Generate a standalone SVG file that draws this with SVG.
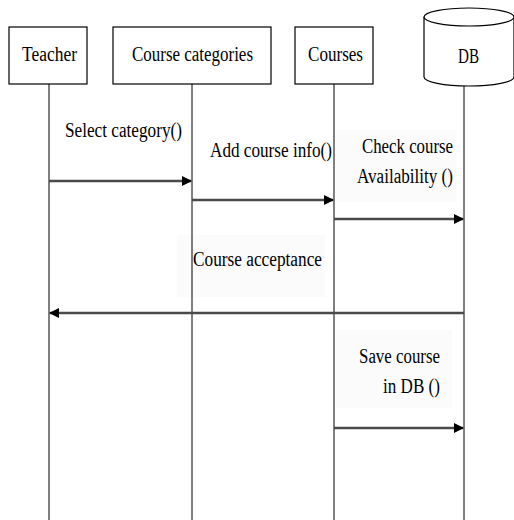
<svg xmlns="http://www.w3.org/2000/svg" width="514" height="520" viewBox="0 0 514 520">
  <style>
    .box { fill: #ffffff; stroke: #000000; stroke-width: 1.2; }
    .life { stroke: #000000; stroke-width: 1; fill: none; }
    .msg { stroke: #4a4a4a; stroke-width: 2.5; fill: none; }
    .pad { fill: #fbfbfb; stroke: none; }
  </style>
  <defs>
    <marker id="head" viewBox="0 0 10 10" refX="9" refY="5" markerWidth="4" markerHeight="4.4" orient="auto" markerUnits="strokeWidth">
      <path d="M0,0 L10,5 L0,10 Z" fill="#000000"/>
    </marker>
  </defs>

  <rect width="514" height="520" fill="#ffffff"/>

  <!-- label backdrops -->
  <g id="label-backdrops">
    <rect class="pad" x="177" y="235" width="148" height="62"/>
    <rect class="pad" x="336" y="330" width="116" height="78"/>
    <rect class="pad" x="336" y="130" width="120" height="72"/>
  </g>

  <!-- lifelines and messages -->
  <g id="connectors">
    <line class="life" x1="49" y1="84" x2="49" y2="520"/>
    <line class="life" x1="192" y1="84" x2="192" y2="520"/>
    <line class="life" x1="334" y1="84" x2="334" y2="520"/>
    <line class="life" x1="464" y1="86" x2="464" y2="520"/>

    <line class="msg" x1="49" y1="181" x2="191" y2="181" marker-end="url(#head)"/>
    <line class="msg" x1="192" y1="200" x2="333" y2="200" marker-end="url(#head)"/>
    <line class="msg" x1="334" y1="219" x2="463" y2="219" marker-end="url(#head)"/>
    <line class="msg" x1="464" y1="313" x2="50" y2="313" marker-end="url(#head)"/>
    <line class="msg" x1="334" y1="428" x2="463" y2="428" marker-end="url(#head)"/>
  </g>

  <!-- all labels share one serif face -->
  <g font-family="'Liberation Serif', 'DejaVu Serif', 'Noto Serif', 'Times New Roman', serif" font-size="20" fill="#000000" lengthAdjust="spacingAndGlyphs">
    <g id="messages">
      <text x="65" y="137" textLength="117" lengthAdjust="spacingAndGlyphs">Select category()</text>
      <text x="210" y="157" textLength="122" lengthAdjust="spacingAndGlyphs">Add course info()</text>
      <text x="362" y="153" textLength="91" lengthAdjust="spacingAndGlyphs">Check course</text>
      <text x="357" y="183" textLength="96" lengthAdjust="spacingAndGlyphs">Availability ()</text>
      <text x="193" y="266" textLength="129" lengthAdjust="spacingAndGlyphs">Course acceptance</text>
      <text x="359" y="363" textLength="81" lengthAdjust="spacingAndGlyphs">Save course</text>
      <text x="383" y="393" textLength="57" lengthAdjust="spacingAndGlyphs">in DB ()</text>
    </g>

    <g id="teacher">
      <rect class="box" x="9" y="27" width="78" height="57"/>
      <text x="22" y="61" textLength="55" lengthAdjust="spacingAndGlyphs">Teacher</text>
    </g>

    <g id="course-categories">
      <rect class="box" x="113" y="27" width="158" height="57"/>
      <text x="132" y="61" textLength="121" lengthAdjust="spacingAndGlyphs">Course categories</text>
    </g>

    <g id="courses">
      <rect class="box" x="295" y="27" width="78" height="57"/>
      <text x="308" y="61" textLength="55" lengthAdjust="spacingAndGlyphs">Courses</text>
    </g>

    <g id="db">
      <path class="box" d="M424,17 L424,77 A45,9 0 0 0 514,77 L514,17"/>
      <ellipse class="box" cx="469" cy="17" rx="45" ry="9"/>
      <text x="458" y="63" textLength="21" lengthAdjust="spacingAndGlyphs">DB</text>
    </g>
  </g>
</svg>
